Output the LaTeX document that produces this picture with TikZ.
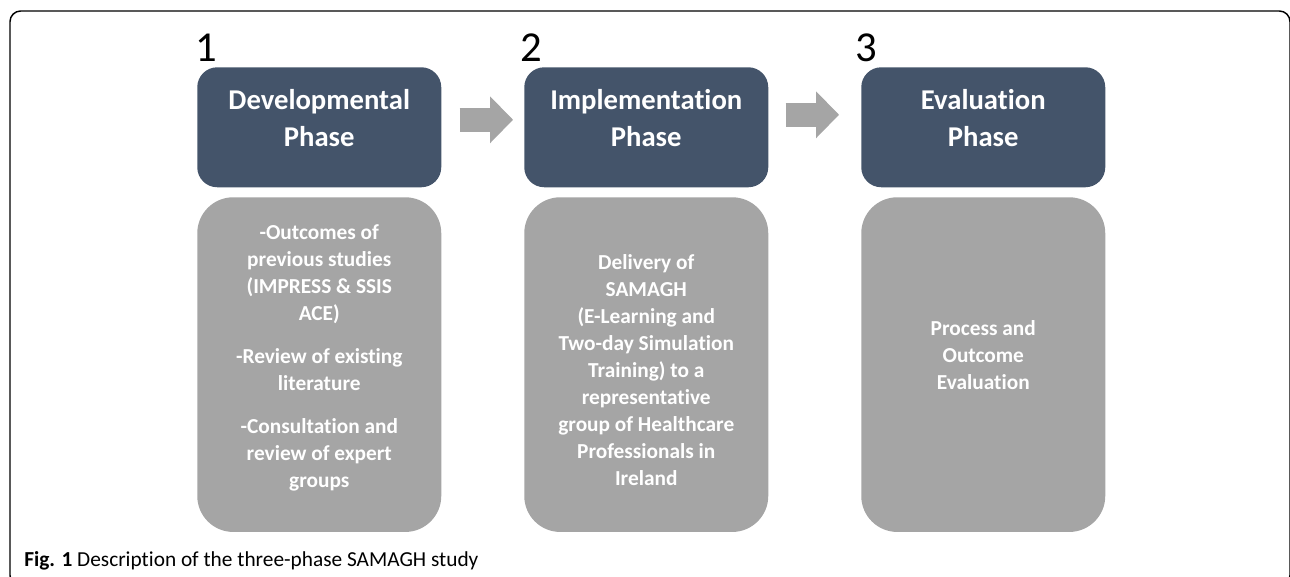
\documentclass[tikz,border=0pt]{standalone}
\usepackage{fontspec}
\setmainfont[Ligatures={NoCommon,NoContextual,NoRequired},Contextuals=NoAlternate]{Carlito}
\usetikzlibrary{arrows.meta,positioning,calc}
\definecolor{phasedark}{RGB}{68,84,106}
\definecolor{phasegray}{RGB}{165,165,165}

\begin{document}
\begin{tikzpicture}[x=0.75pt,y=0.75pt,yscale=-1,xscale=1,
  phase/.style={fill=phasedark,draw=none,rounded corners=15pt,minimum width=183pt,minimum height=90pt,anchor=north west,inner sep=0pt},
  detail/.style={fill=phasegray,draw=none,rounded corners=27pt,minimum width=183pt,minimum height=251pt,anchor=north west,inner sep=0pt},
  phasetext/.style={text=white,font=\bfseries\fontsize{21.5}{27.75}\selectfont,align=center,inner sep=0pt},
  detailtext/.style={text=white,font=\bfseries\fontsize{16}{20.25}\selectfont,align=center,inner sep=0pt},
  phasenum/.style={font=\fontsize{32}{36}\selectfont,anchor=base west,inner sep=0pt},
  flowarrow/.style={draw=phasegray,line width=18pt,-{Triangle[length=17.25pt,width=35.25pt,line width=0pt]}}
]
\useasboundingbox (0,0) rectangle (1290,576);
\clip (0,0) rectangle (1290,576);

% Frame
\draw [line width=1.1pt, rounded corners=8pt] (10,11) rectangle (1290,586);

% Phase headers
\node [phase] (dev) at (197,67) {};
\node [phase] (impl) at (524,67) {};
\node [phase] (eval) at (861,67) {};

\node [phasetext] (devtitle) at ($(dev.center)+(0,-9)$) {Developmental\\Phase};
\node [phasetext] (impltitle) at ($(impl.center)+(0,-9)$) {Implementation\\Phase};
\node [phasetext] (evaltitle) at ($(eval.center)+(0,-9)$) {Evaluation\\Phase};

% Phase numbers
\node [phasenum] (num1) at (195,61) {1};
\node [phasenum] (num2) at (520,61) {2};
\node [phasenum] (num3) at (855,61) {3};

% Detail boxes
\node [detail] (devbox) at (197,197) {};
\node [detail] (implbox) at (524,197) {};
\node [detail] (evalbox) at (861,197) {};

\node [detailtext] (devtxt) at ($(devbox.center)+(0,-7)$) {-Outcomes of\\previous studies\\(IMPRESS \& SSIS\\ACE)\\[12pt]-Review of existing\\literature\\[12pt]-Consultation and\\review of expert\\groups};
\node [detailtext] (impltxt) at ($(implbox.center)+(0,5)$) {Delivery of\\SAMAGH\\(E-Learning and\\Two-day Simulation\\Training) to a\\representative\\group of Healthcare\\Professionals in\\Ireland};
\node [detailtext] (evaltxt) at ($(evalbox.center)+(0,-10)$) {Process and\\Outcome\\Evaluation};

% Arrows
\draw [flowarrow] ($(dev.east)+(18,-7.5)$) -- ($(impl.west)+(-11,-7.5)$);
\draw [flowarrow] ($(impl.east)+(17,-12.5)$) -- ($(eval.west)+(-22,-12.5)$);

% Caption
\node [anchor=base west,inner sep=0pt,font=\fontsize{16}{19}\selectfont] (caption) at (24,566) {\textbf{Fig. 1} Description of the three-phase SAMAGH study};

\end{tikzpicture}
\end{document}
